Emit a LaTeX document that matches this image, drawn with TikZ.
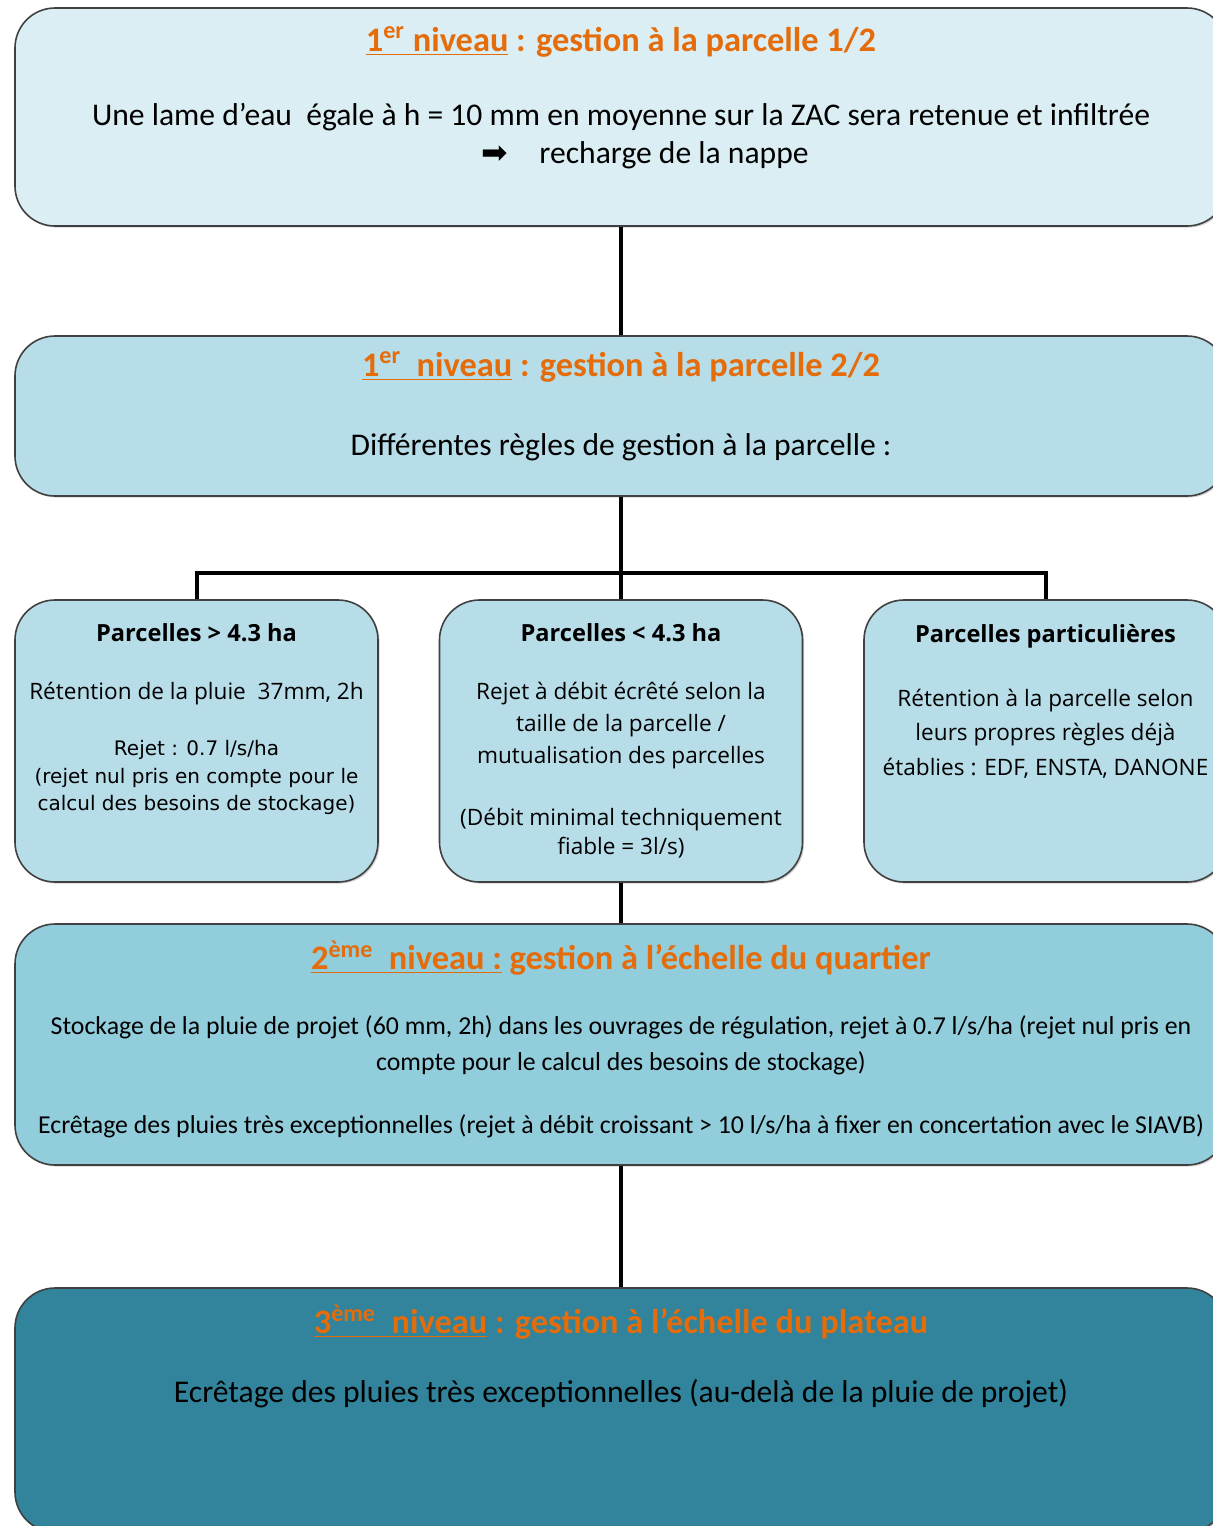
\documentclass[tikz,border=0pt]{standalone}
\usepackage{fontspec}
\setmainfont{Carlito}
\newfontfamily\parcfont{Open Sans}
\newfontfamily\notefont{DejaVu Sans}
\newfontfamily\symbfont{DejaVu Sans}
\usetikzlibrary{positioning,calc,shadows}

\definecolor{paleblue}{HTML}{DBEEF4}
\definecolor{lightblue}{HTML}{B7DDE8}
\definecolor{midblue}{HTML}{92CDDC}
\definecolor{darkteal}{HTML}{31849B}
\definecolor{lvlorange}{HTML}{E46C0A}

\tikzset{
    lvlbox/.style={draw=black!75, line width=0.8pt, rounded corners=20pt,
        minimum width=606pt,
        drop shadow={shadow xshift=0.8pt, shadow yshift=-0.8pt, opacity=0.35}},
    parcbox/.style={lvlbox, fill=lightblue, minimum width=181.5pt, minimum height=141pt},
    lvltitle/.style={inner sep=0pt, text=lvlorange, font=\bfseries\fontsize{17.2}{20}\selectfont},
    lvltext/.style={inner sep=0pt, align=center, font=\fontsize{15.8}{19}\selectfont},
    parctitle/.style={inner sep=0pt, font=\parcfont\bfseries\fontsize{11.8}{14}\selectfont},
    parctext/.style={inner sep=0pt, align=center, font=\parcfont\fontsize{11.3}{16}\selectfont},
    parcnote/.style={inner sep=0pt, align=center, font=\notefont\fontsize{10}{13.75}\selectfont},
    link/.style={line width=2pt}
}

\begin{document}
\begin{tikzpicture}[x=0.5pt, y=-0.5pt]
    \useasboundingbox (0,0) rectangle (1213,1526);
    \clip (0,0) rectangle (1213,1526);

    % the three levels and the parcel rules
    \node[lvlbox, fill=paleblue, minimum height=109pt] (niv1a) at (621,117) {};
    \node[lvlbox, fill=lightblue, minimum height=80pt] (niv1b) at (621,416) {};
    \node[parcbox] (parcA) at (196.5,741) {};
    \node[parcbox] (parcB) at (621,741) {};
    \node[parcbox] (parcC) at (1045.5,741) {};
    \node[lvlbox, fill=midblue, minimum height=120.5pt] (niv2) at (621,1044.5) {};
    \node[lvlbox, fill=darkteal, minimum height=122pt] (niv3) at (621,1410) {};

    % connectors
    \coordinate (fork) at (621,573);
    \draw[link] (niv1a) -- (niv1b);
    \draw[link] (niv1b) -- (fork);
    \draw[link] (parcA.north) |- (fork) -| (parcC.north);
    \draw[link] (fork) -- (parcB);
    \draw[link] (parcB) -- (niv2);
    \draw[link] (niv2) -- (niv3);

    % texts of level 1
    \node[lvltitle] (t1a) at (621,42)
        {\underline{1\textsuperscript{er} niveau} : gestion à la parcelle 1/2};
    \node[lvltext] (b1a) at (621,136)
        {Une lame d’eau\ \ égale à h = 10 mm en moyenne sur la ZAC sera retenue et infiltrée\\
         \hspace*{24pt}{\symbfont ➡}\quad recharge de la nappe};
    \node[lvltitle] (t1b) at (621,367)
        {\underline{1\textsuperscript{er}\ \ niveau} : gestion à la parcelle 2/2};
    \node[lvltext] (b1b) at (621,447)
        {Différentes règles de gestion à la parcelle :};

    % parcels
    \node[parctitle] (tA) at (196.5,633) {Parcelles > 4.3 ha};
    \node[parctext] (bA) at (196.5,694) {Rétention de la pluie\ \ 37mm, 2h};
    \node[parcnote] (nA) at (196.5,777.5)
        {Rejet : 0.7 l/s/ha\\(rejet nul pris en compte pour le\\calcul des besoins de stockage)};
    \node[parctitle] (tB) at (621,633) {Parcelles < 4.3 ha};
    \node[parctext] (bB) at (621,726)
        {Rejet à débit écrêté selon la\\taille de la parcelle /\\mutualisation des parcelles};
    \node[parctext, font=\parcfont\fontsize{11.3}{14.5}\selectfont] (nB) at (621,833.5)
        {(Débit minimal techniquement\\fiable = 3l/s)};
    \node[parctitle] (tC) at (1045.5,636) {Parcelles particulières};
    \node[parctext, font=\parcfont\fontsize{11.3}{17.25}\selectfont] (bC) at (1045.5,733.5)
        {Rétention à la parcelle selon\\leurs propres règles déjà\\établies : EDF, ENSTA, DANONE};

    % level 2
    \node[lvltitle] (t2) at (621,958)
        {\underline{2\textsuperscript{ème}\ \ niveau :} gestion à l’échelle du quartier};
    \node[lvltext, font=\fontsize{12.9}{18}\selectfont] (b2a) at (621,1045)
        {Stockage de la pluie de projet (60 mm, 2h) dans les ouvrages de régulation, rejet à 0.7 l/s/ha (rejet nul pris en\\
         compte pour le calcul des besoins de stockage)};
    \node[lvltext, font=\fontsize{12.9}{18}\selectfont] (b2b) at (621,1126)
        {Ecrêtage des pluies très exceptionnelles (rejet à débit croissant > 10 l/s/ha à fixer en concertation avec le SIAVB)};

    % level 3
    \node[lvltitle] (t3) at (621,1322)
        {\underline{3\textsuperscript{ème}\ \ niveau} : gestion à l’échelle du plateau};
    \node[lvltext] (b3) at (621,1394)
        {Ecrêtage des pluies très exceptionnelles (au-delà de la pluie de projet)};
\end{tikzpicture}
\end{document}
